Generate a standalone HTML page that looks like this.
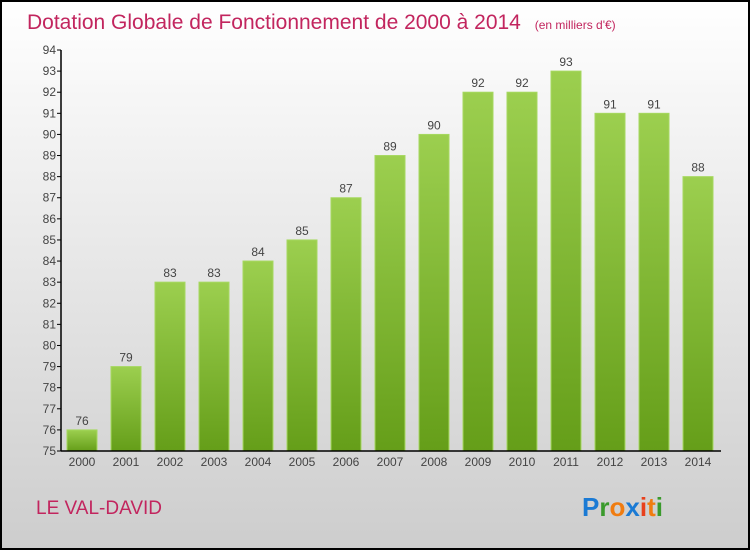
<!DOCTYPE html>
<html><head><meta charset="utf-8"><style>
body{margin:0}
svg{display:block;font-family:"Liberation Sans",sans-serif}
</style></head><body>
<svg width="750" height="550" viewBox="0 0 750 550">
<defs>
<linearGradient id="bg" x1="0" y1="0" x2="0" y2="1"><stop offset="0" stop-color="#ffffff"/><stop offset="1" stop-color="#cdcdcd"/></linearGradient>
<linearGradient id="bar" x1="0" y1="0" x2="0" y2="1"><stop offset="0" stop-color="#9ccf4f"/><stop offset="1" stop-color="#659e19"/></linearGradient>
</defs>
<rect x="1" y="1" width="748" height="548" fill="url(#bg)" stroke="#000" stroke-width="2"/>
<text x="27" y="29" font-size="21" fill="#c2255e">Dotation Globale de Fonctionnement de 2000 à 2014 <tspan font-size="12" dx="8">(en milliers d'€)</tspan></text>
<g id="plot"></g>
<text x="36" y="514" font-size="19" fill="#c2255e">LE VAL-DAVID</text>
<text x="582" y="516" font-size="26" font-weight="bold"><tspan fill="#1a7ad4">P</tspan><tspan fill="#3a9a2c">r</tspan><tspan fill="#f07c10">o</tspan><tspan fill="#1a7ad4">x</tspan><tspan fill="#e8401c">i</tspan><tspan fill="#f07c10">t</tspan><tspan fill="#3a9a2c">i</tspan></text>
<script>
</script>
</svg>
<script>
const years=["2000","2001","2002","2003","2004","2005","2006","2007","2008","2009","2010","2011","2012","2013","2014"];
const values=[76,79,83,83,84,85,87,89,90,92,92,93,91,91,88];
const yTicks=[75,76,77,78,79,80,81,82,83,84,85,86,87,88,89,90,91,92,93,94];
const NS="http://www.w3.org/2000/svg";
const g=document.getElementById('plot');
const x0=61,band=44,y0=451,y1=50,vmin=75,vmax=94;
const ys=v=>y0-(v-vmin)/(vmax-vmin)*(y0-y1);
const xs=i=>x0+i*band;
function mk(t,a,txt){const e=document.createElementNS(NS,t);for(const k in a)e.setAttribute(k,a[k]);if(txt!==undefined)e.textContent=txt;g.appendChild(e);return e;}
values.forEach((v,i)=>{
 const r=mk('rect',{x:xs(i)+6,y:ys(v),width:30,height:y0-ys(v),fill:'url(#bar)',stroke:'#a6d860','stroke-width':1});
 
 
 const t=mk('text',{x:xs(i)+21,y:ys(v)-5,'font-size':12,'text-anchor':'middle',fill:'#444'},String(v));
 
 
 const l=mk('text',{x:xs(i)+21,y:y0+15,'font-size':12,'text-anchor':'middle',fill:'#444'},years[i]);
 
 
});
yTicks.forEach(v=>{
 const tk=mk('line',{x1:x0-4,x2:x0,y1:ys(v),y2:ys(v),stroke:'#000'});
 
 
 const t=mk('text',{x:x0-5,y:ys(v)+4,'font-size':12,'text-anchor':'end',fill:'#444'},String(v));
 
 
});
const ya=mk('line',{x1:x0,x2:x0,y1:y1,y2:y0,stroke:'#000','stroke-width':1.5});


const xa=mk('line',{x1:x0,x2:721,y1:y0,y2:y0,stroke:'#000','stroke-width':1.5});


</script>
</body></html>
